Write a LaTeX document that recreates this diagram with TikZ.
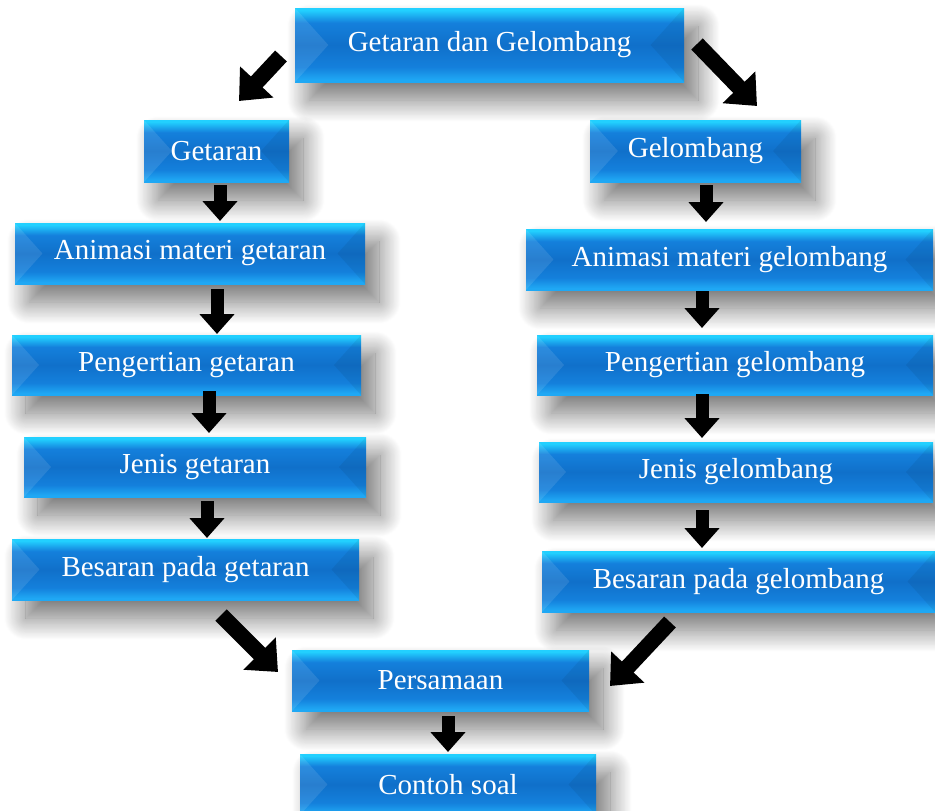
\documentclass[tikz,border=0pt]{standalone}
\usepackage{fontspec}
\setmainfont{Liberation Serif}
\usetikzlibrary{arrows.meta,shadows.blur,calc}
\definecolor{cT}{HTML}{22D0FF}
\definecolor{cB}{HTML}{1FA8F4}
\definecolor{cM2}{HTML}{1480DC}
\definecolor{cM}{HTML}{1070CA}
\pgfdeclareverticalshading{bevsh}{100bp}{color(0bp)=(cB); color(25bp)=(cB); color(26.5bp)=(cB); color(35bp)=(cM2); color(50bp)=(cM); color(65bp)=(cM2); color(73.5bp)=(cT); color(75bp)=(cT); color(100bp)=(cT)}
\tikzset{
  bev/.style={shading=bevsh, draw=none, text=white, inner sep=0pt,
    font=\fontsize{29}{34}\selectfont,
    blur shadow={shadow xshift=14pt, shadow yshift=-18pt, shadow blur radius=22pt, shadow blur steps=25, shadow opacity=55},
    path picture={
      \fill[white,opacity=.10] let \p1=(path picture bounding box.north west), \p2=(path picture bounding box.south east), \n1={0.45*(\y1-\y2)}, \n2={0.5*(\y1-\y2)} in
        (\x1,\y1) -- (\x1,\y2) -- ({\x1+\n1},{\y1-\n2}) -- cycle;
      \fill[black,opacity=.06] let \p1=(path picture bounding box.north west), \p2=(path picture bounding box.south east), \n1={0.45*(\y1-\y2)}, \n2={0.5*(\y1-\y2)} in
        (\x2,\y1) -- (\x2,\y2) -- ({\x2-\n1},{\y1-\n2}) -- cycle;
    }},
  blk/.style={line width=13pt, -{Triangle[width=34pt,length=20pt]}},
  blkL/.style={line width=16pt, -{Triangle[width=44pt,length=26pt]}},
}
\begin{document}
\begin{tikzpicture}[x=1pt,y=1pt]
\useasboundingbox (0,0) rectangle (935,-811);
\node[bev, minimum width=389pt, minimum height=74pt] (top) at (489.5,-45) {Getaran dan Gelombang};
\node[bev, minimum width=145pt, minimum height=62pt] (g1) at (216.5,-151) {Getaran};
\node[bev, minimum width=211pt, minimum height=62pt] (w1) at (695.5,-151) {Gelombang};
\node[bev, minimum width=350pt, minimum height=61pt] (a1) at (190,-253.5) {Animasi materi getaran};
\node[bev, minimum width=407pt, minimum height=61pt] (a2) at (729.5,-259.5) {Animasi materi gelombang};
\node[bev, minimum width=349pt, minimum height=60pt] (p1) at (186.5,-365) {Pengertian getaran};
\node[bev, minimum width=396pt, minimum height=60pt] (p2) at (735,-365) {Pengertian gelombang};
\node[bev, minimum width=342pt, minimum height=60pt] (j1) at (195,-467) {Jenis getaran};
\node[bev, minimum width=394pt, minimum height=60pt] (j2) at (736,-472) {Jenis gelombang};
\node[bev, minimum width=347pt, minimum height=61pt] (b1) at (185.5,-569.5) {Besaran pada getaran};
\node[bev, minimum width=393pt, minimum height=61pt] (b2) at (738.5,-581.5) {Besaran pada gelombang};
\node[bev, minimum width=297pt, minimum height=61pt] (ps) at (440.5,-680.5) {Persamaan};
\node[bev, minimum width=296pt, minimum height=61pt] (cs) at (448,-784.5) {Contoh soal};
% arrow end points
\coordinate (tlS) at (281,-56);  \coordinate (tlE) at (239,-101);
\coordinate (trS) at (697,-44);  \coordinate (trE) at (757,-106);
\coordinate (d1S) at (220,-185); \coordinate (d1E) at (220,-221);
\coordinate (d2S) at (217,-289); \coordinate (d2E) at (217,-334);
\coordinate (d3S) at (209,-391); \coordinate (d3E) at (209,-433);
\coordinate (d4S) at (207,-501); \coordinate (d4E) at (207,-538);
\coordinate (r1S) at (706,-185); \coordinate (r1E) at (706,-222);
\coordinate (r2S) at (702,-291); \coordinate (r2E) at (702,-328);
\coordinate (r3S) at (702,-394); \coordinate (r3E) at (702,-438);
\coordinate (r4S) at (702,-510); \coordinate (r4E) at (702,-548);
\coordinate (blS) at (221,-615); \coordinate (blE) at (278,-672);
\coordinate (brS) at (670,-622); \coordinate (brE) at (610,-686);
\coordinate (lsS) at (448,-716); \coordinate (lsE) at (448,-752);
\draw[blkL] (tlS) -- (tlE);
\draw[blkL] (trS) -- (trE);
\draw[blk] (d1S) -- (d1E);
\draw[blk] (d2S) -- (d2E);
\draw[blk] (d3S) -- (d3E);
\draw[blk] (d4S) -- (d4E);
\draw[blk] (r1S) -- (r1E);
\draw[blk] (r2S) -- (r2E);
\draw[blk] (r3S) -- (r3E);
\draw[blk] (r4S) -- (r4E);
\draw[blkL] (blS) -- (blE);
\draw[blkL] (brS) -- (brE);
\draw[blk] (lsS) -- (lsE);
\end{tikzpicture}
\end{document}
